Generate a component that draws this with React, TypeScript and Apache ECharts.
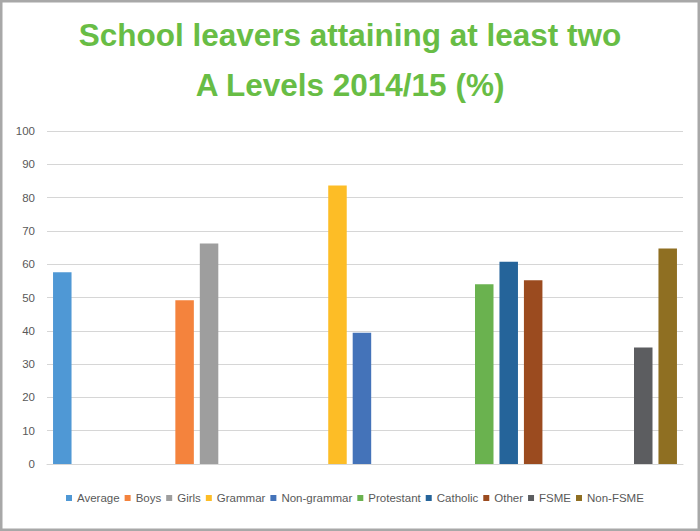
import React, { useEffect, useRef } from "react";
import * as echarts from "echarts";

// ---- data ----
const seriesNames = [
  "Average",
  "Boys",
  "Girls",
  "Grammar",
  "Non-grammar",
  "Protestant",
  "Catholic",
  "Other",
  "FSME",
  "Non-FSME",
];
const seriesValues = [57.6, 49.2, 66.2, 83.6, 39.4, 54.0, 60.7, 55.2, 35.0, 64.7];
const yTicks = [0, 10, 20, 30, 40, 50, 60, 70, 80, 90, 100];
const titleLines = ["School leavers attaining at least two", "A Levels 2014/15 (%)"];

// ---- layout (category slots on a fine x axis) ----
const slotCount = 104;
const barSlot = [2, 22, 26, 47, 51, 71, 75, 79, 97, 101];

// ---- styles ----
const colors = [
  "#4f98d5",
  "#f4833d",
  "#9e9e9e",
  "#fdbd26",
  "#4473b9",
  "#6ab24f",
  "#25649a",
  "#9b4b1f",
  "#5c5d60",
  "#8f6f22",
];

const FONT = "'Liberation Sans', Arial, Helvetica, sans-serif";

export default function App() {
  const ref = useRef<HTMLDivElement>(null);

  useEffect(() => {
    if (!ref.current) return;
    const chart = echarts.init(ref.current, undefined, { renderer: "svg" });
    const categories = Array.from({ length: slotCount }, (_, i) => String(i));
    const series = seriesNames.map((name, k) => {
      const data = categories.map((_, i) => (i === barSlot[k] ? seriesValues[k] : null));
      return {
        name,
        type: "bar" as const,
        data,
        barWidth: 18.5,
        barGap: "-100%",
        itemStyle: { color: colors[k] },
        emphasis: { disabled: true },
      };
    });

    chart.setOption({
      animation: false,
      backgroundColor: "#ffffff",
      textStyle: { fontFamily: FONT },
      title: {
        text: titleLines.join("\n"),
        left: "center",
        top: 10,
        padding: 0,
        textStyle: {
          fontFamily: FONT,
          fontSize: 31.5,
          fontWeight: "bold",
          color: "#68bd45",
          lineHeight: 50,
        },
      },
      legend: {
        data: seriesNames,
        top: 487,
        left: 61,
        icon: "rect",
        itemWidth: 6,
        itemHeight: 6,
        itemGap: 5,
        textStyle: { fontFamily: FONT, fontSize: 11.5, color: "#595959" },
      },
      grid: { left: 47, right: 17, top: 131, bottom: 67, containLabel: false },
      xAxis: {
        type: "category",
        data: categories,
        axisLabel: { show: false },
        axisTick: { show: false },
        axisLine: { show: true, lineStyle: { color: "#d6d6d6", width: 1 } },
        splitLine: { show: false },
      },
      yAxis: {
        type: "value",
        min: yTicks[0],
        max: yTicks[yTicks.length - 1],
        interval: yTicks[1] - yTicks[0],
        axisLine: { show: false },
        axisTick: { show: false },
        axisLabel: { color: "#595959", fontSize: 11.5, margin: 12, fontFamily: FONT },
        splitLine: { lineStyle: { color: "#d6d6d6", width: 1 } },
      },
      graphic: [
        {
          type: "rect",
          silent: true,
          shape: { x: 1.25, y: 1.25, width: 697.5, height: 528.5 },
          style: { fill: "none", stroke: "#a8a8a8", lineWidth: 2.5 },
          z: 100,
        },
      ],
      series,
    });

    return () => {
      chart.dispose();
    };
  }, []);

  return (
    <div
      ref={ref}
      style={{ position: "absolute", left: 0, top: 0, width: 700, height: 531 }}
    />
  );
}
